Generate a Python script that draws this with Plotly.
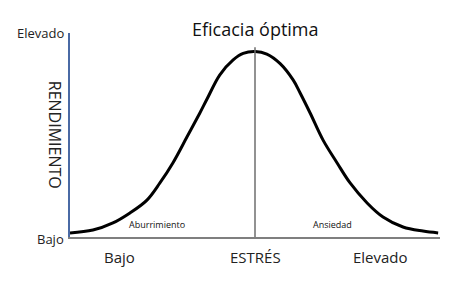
import plotly.graph_objects as go

# Data (stress 0-10, performance 0-10)
stress = [0, 0.62, 1.16, 1.62, 2.08, 2.43, 2.78, 3.16, 3.51, 3.70, 4.05, 4.41, 4.68, 5.0,
          5.32, 5.68, 6.03, 6.22, 6.49, 6.84, 7.22, 7.57, 8.03, 8.46, 9.0, 9.54, 9.95]
performance = [0.2, 0.34, 0.69, 1.18, 1.81, 2.65, 3.63, 4.90, 6.08, 6.75, 7.95, 8.68, 9.0, 9.09,
               8.97, 8.5, 7.7, 7.06, 6.08, 4.75, 3.63, 2.65, 1.67, 0.98, 0.49, 0.29, 0.2]
optimum_x = 5.0
optimum_top = 9.3

x_tick_vals = [1.35, 5.0, 8.38]
x_tick_text = ["Bajo", "ESTRÉS", "Elevado"]
y_tick_vals = [0, 10]
y_tick_text = ["Bajo", "Elevado"]
zone_x = [2.35, 7.1]
zone_text = ["Aburrimiento", "Ansiedad"]
title_text = "Eficacia óptima"
y_title = "RENDIMIENTO"

FONT = "Open Sans"

fig = go.Figure()
fig.add_trace(go.Scatter(x=stress, y=performance, mode="lines",
                         line=dict(color="black", width=3, shape="spline", smoothing=1.0),
                         hoverinfo="skip"))

fig.add_shape(type="line", xref="x", yref="y", x0=optimum_x, x1=optimum_x,
              y0=-0.2, y1=optimum_top, line=dict(color="#6e6e6e", width=1.5))

ann = []
for xv, t in zip(x_tick_vals, x_tick_text):
    ann.append(dict(x=xv, y=-0.1, xref="x", yref="paper", text=t, showarrow=False,
                    yanchor="middle", font=dict(family=FONT, size=15, color="#222")))
for yv, t in zip(y_tick_vals, y_tick_text):
    ann.append(dict(x=-0.01, y=yv, xref="paper", yref="y", text=t, showarrow=False,
                    xanchor="right", yanchor="middle", yshift=-2 if yv == 0 else 0,
                    font=dict(family=FONT, size=13, color="#222")))
for xv, t in zip(zone_x, zone_text):
    ann.append(dict(x=xv, y=0.6, xref="x", yref="y", text=t, showarrow=False,
                    font=dict(family=FONT, size=9, color="#111")))
ann.append(dict(x=-0.075, y=0.5, xref="paper", yref="paper", text=y_title, textangle=90,
                showarrow=False, font=dict(family=FONT, size=16, color="#222")))
ann.append(dict(x=0.5, y=1.09, xref="paper", yref="paper", text=title_text, showarrow=False,
                font=dict(family=FONT, size=18, color="#111")))

fig.update_layout(
    width=454, height=282,
    margin=dict(l=70, r=14, t=33, b=45),
    paper_bgcolor="white", plot_bgcolor="white",
    showlegend=False,
    annotations=ann,
    xaxis=dict(range=[0, 10], showgrid=False, zeroline=False, showticklabels=False,
               ticks="", showline=True, linecolor="#7f7f7f", linewidth=2),
    yaxis=dict(range=[0, 10], showgrid=False, zeroline=False, showticklabels=False,
               ticks="", showline=True, linecolor="#4a6aa5", linewidth=2),
)

fig.write_html("out.html")
